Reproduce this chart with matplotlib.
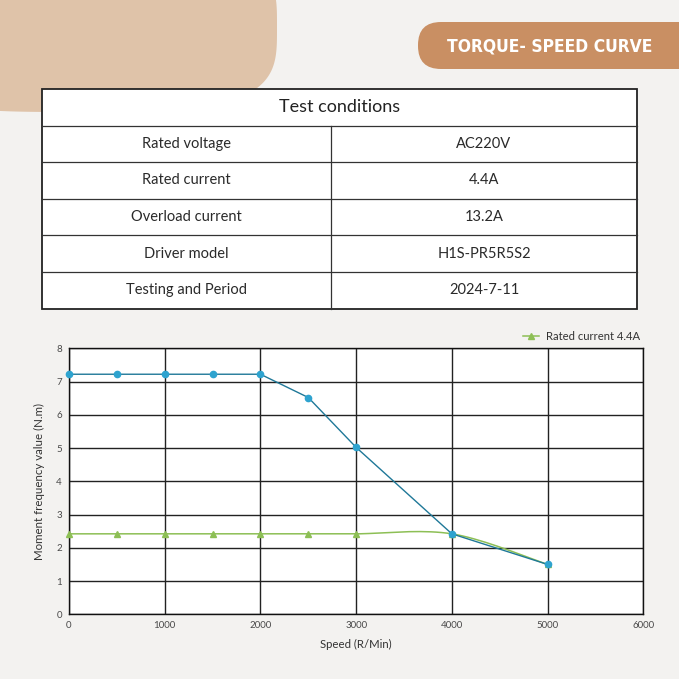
import numpy as np
import matplotlib
matplotlib.use("Agg")
import matplotlib.pyplot as plt
from matplotlib.patches import FancyBboxPatch, Rectangle, Polygon

# ---- data ----
table_title = "Test conditions"
table_keys = ["Rated voltage", "Rated current", "Overload current",
              "Driver model", "Testing and Period"]
table_vals = ["AC220V", "4.4A", "13.2A", "H1S-PR5R5S2", "2024-7-11"]

speed = [0, 500, 1000, 1500, 2000, 2500, 3000, 4000, 5000]
torque_max = [7.22, 7.22, 7.22, 7.22, 7.22, 6.52, 5.02, 2.42, 1.50]
torque_rated = [2.42, 2.42, 2.42, 2.42, 2.42, 2.42, 2.42, 2.42, 1.50]
legend_label = "Rated current 4.4A"

x_ticks = [0, 1000, 2000, 3000, 4000, 5000, 6000]
y_ticks = [0, 1, 2, 3, 4, 5, 6, 7, 8]

W = H = 679
BG = "#f3f2f0"
TAN = "#dfc3a9"
BADGE = "#c98f63"
BLUE = "#2ea3cf"
BLUE_LINE = "#1f7898"
GREEN = "#8dbf55"
FONT = ["Lato", "DejaVu Sans"]


def smooth(xs, ys, n=20):
    """Catmull-Rom path through the points (like a smoothed Excel line)."""
    xs, ys = np.asarray(xs, float), np.asarray(ys, float)
    px = np.r_[xs[0], xs, xs[-1]]
    py = np.r_[ys[0], ys, ys[-1]]
    out_x, out_y = [], []
    t = np.linspace(0, 1, n)
    for i in range(1, len(px) - 2):
        for p, out in ((px, out_x), (py, out_y)):
            p0, p1, p2, p3 = p[i - 1], p[i], p[i + 1], p[i + 2]
            out.extend(0.5 * ((2 * p1) + (-p0 + p2) * t
                              + (2 * p0 - 5 * p1 + 4 * p2 - p3) * t ** 2
                              + (-p0 + 3 * p1 - 3 * p2 + p3) * t ** 3))
    return out_x, out_y


fig = plt.figure(figsize=(W / 100, H / 100), dpi=100, facecolor=BG)

# background layer in pixel coordinates
bg = fig.add_axes([0, 0, 1, 1], zorder=0)
bg.set_xlim(0, W)
bg.set_ylim(H, 0)
bg.axis("off")

# tan blob in the top-left corner (superellipse)
th = np.linspace(0, 2 * np.pi, 400)
c, s = np.cos(th), np.sin(th)
bx = 80 + 197 * np.sign(c) * np.abs(c) ** 0.57
by = 27 + 85 * np.sign(s) * np.abs(s) ** 0.57
bg.add_patch(Polygon(np.c_[bx, by], closed=True, color=TAN, lw=0))

# title badge
bg.add_patch(FancyBboxPatch((418, 22), 320, 47,
                            boxstyle="round,pad=0,rounding_size=23",
                            color=BADGE, lw=0))
bg.text(550, 46, "TORQUE- SPEED CURVE", color="white", fontsize=12.5,
        fontweight="bold", fontstretch="condensed", ha="center",
        va="center", family=["DejaVu Sans"])

# table
tx0, tx1, tmid = 42, 637, 331
ty0, row_h = 89, 36.6
n_rows = len(table_keys) + 1
ty1 = ty0 + row_h * n_rows
bg.add_patch(Rectangle((tx0, ty0), tx1 - tx0, ty1 - ty0,
                       facecolor="white", edgecolor="#222222", lw=1.3))
for i in range(1, n_rows):
    y = ty0 + row_h * i
    bg.plot([tx0, tx1], [y, y], color="#333333", lw=0.9)
bg.plot([tmid, tmid], [ty0 + row_h, ty1], color="#333333", lw=0.9)
bg.text((tx0 + tx1) / 2, ty0 + row_h / 2, table_title, fontsize=13,
        ha="center", va="center", color="#222222", family=FONT)
for i, (k, v) in enumerate(zip(table_keys, table_vals)):
    yc = ty0 + row_h * (i + 1.5)
    bg.text((tx0 + tmid) / 2, yc, k, fontsize=10.5, ha="center",
            va="center", color="#2a2a2a", family=FONT)
    bg.text((tmid + tx1) / 2, yc, v, fontsize=10.5, ha="center",
            va="center", color="#2a2a2a", family=FONT)

# chart
left, right, top, bottom = 69, 643.3, 348.3, 614.3
ax = fig.add_axes([left / W, 1 - bottom / H, (right - left) / W,
                   (bottom - top) / H], zorder=2)
ax.set_facecolor("white")
ax.set_xlim(0, 6000)
ax.set_ylim(0, 8)
ax.set_xticks(x_ticks)
ax.set_yticks(y_ticks)
ax.grid(True, color="#222222", lw=1.0)
ax.set_axisbelow(True)
for sp in ax.spines.values():
    sp.set_color("#111111")
    sp.set_linewidth(1.0)
ax.tick_params(length=0, labelsize=7, colors="#4a4a4a", pad=5)
for lab in ax.get_xticklabels() + ax.get_yticklabels():
    lab.set_family(FONT)

gx, gy = smooth(speed, torque_rated)
ax.plot(gx, gy, color=GREEN, lw=1.1, zorder=3)
ax.plot(speed, torque_rated, ls="none", marker="^", ms=4.5, color=GREEN,
        zorder=3, clip_on=False)
ax.plot(speed, torque_max, color=BLUE_LINE, lw=1.0, zorder=4)
ax.plot(speed, torque_max, ls="none", marker="o", ms=4.5, color=BLUE,
        zorder=5, clip_on=False)

ax.set_xlabel("Speed (R/Min)", fontsize=8.2, color="#333333",
              family=FONT, labelpad=6)
ax.set_ylabel("Moment frequency value (N.m)", fontsize=8.3,
              color="#333333", family=FONT, labelpad=8)

# legend above the plot, top right
bg.plot([523, 539], [336, 336], color=GREEN, lw=1.1)
bg.plot([531], [336], marker="^", ms=4.5, color=GREEN)
bg.text(546, 336, legend_label, fontsize=8.1, va="center", ha="left",
        color="#333333", family=FONT)

fig.savefig("out.png", dpi=100, facecolor=BG)
